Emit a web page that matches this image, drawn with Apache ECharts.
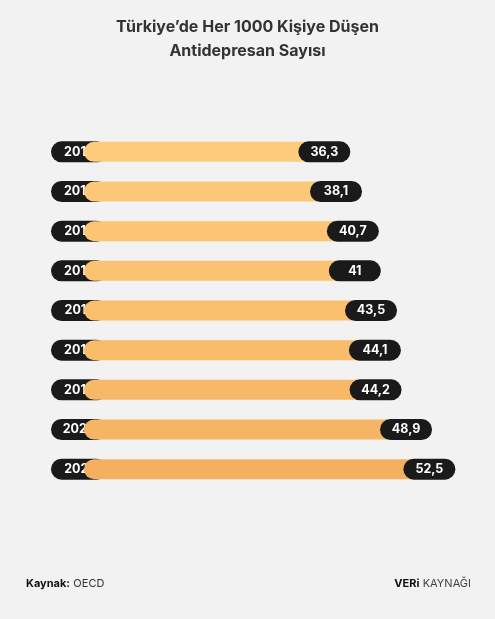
<!DOCTYPE html><html><head><meta charset="utf-8"><script src="https://cdn.jsdelivr.net/npm/echarts@6/dist/echarts.min.js"></script>
<style>html,body{margin:0;background:#f2f2f2}#c{width:495px;height:619px}</style></head><body><div id="c"></div><script>
var years=['2013','2014','2015','2016','2017','2018','2019','2020','2021'];
var values=[36.3,38.1,40.7,41,43.5,44.1,44.2,48.9,52.5];
var colors=['#FDCB7B','#FCC878','#FBC574','#FAC271','#F9BF6D','#F8BC6A','#F7B967','#F6B564','#F4B05F'];
var ch=echarts.init(document.getElementById('c'));
var lab={backgroundColor:'#1a1a1a',color:'#fff',fontWeight:'bold',fontSize:12.5,fontFamily:'Inter, sans-serif',borderRadius:11,padding:[4,10,4,10],width:32,align:'center',height:13,lineHeight:13};
ch.setOption({
 backgroundColor:'#f2f2f2',
 title:{text:'Türkiye’de Her 1000 Kişiye Düşen\nAntidepresan Sayısı',left:'center',top:10,textStyle:{fontSize:16,fontWeight:'bold',color:'#333',lineHeight:24,fontFamily:'Inter, sans-serif'}},
 graphic:[
  {type:'text',left:26,top:578,style:{rich:{a:{fontWeight:'bold',fontSize:11,fill:'#111',fontFamily:'Inter'},b:{fontSize:11,fill:'#333',fontFamily:'Inter'}},text:'{a|Kaynak:} {b|OECD}'}},
  {type:'text',right:24,top:578,style:{rich:{a:{fontWeight:'bold',fontSize:11,fill:'#111',fontFamily:'Inter'},b:{fontSize:11,fill:'#444',fontFamily:'Inter'}},text:'{a|VERi} {b|KAYNAĞI}'}}
 ],
 grid:{left:84,right:22,top:132,height:357},
 xAxis:{type:'value',min:0,max:60,show:false},
 yAxis:{type:'category',data:years,inverse:true,axisLine:{show:false},axisTick:{show:false},
  axisLabel:Object.assign({margin:5},lab,{padding:[4,12,4,12]})},
 series:[{type:'bar',barWidth:20,data:values.map(function(v,i){return {value:v,itemStyle:{color:colors[i]}};}),
  itemStyle:{borderRadius:10},
  label:Object.assign({show:true,position:'right',distance:5,formatter:function(p){return String(p.value).replace('.',',');}},lab)}]
});
</script></body></html>
